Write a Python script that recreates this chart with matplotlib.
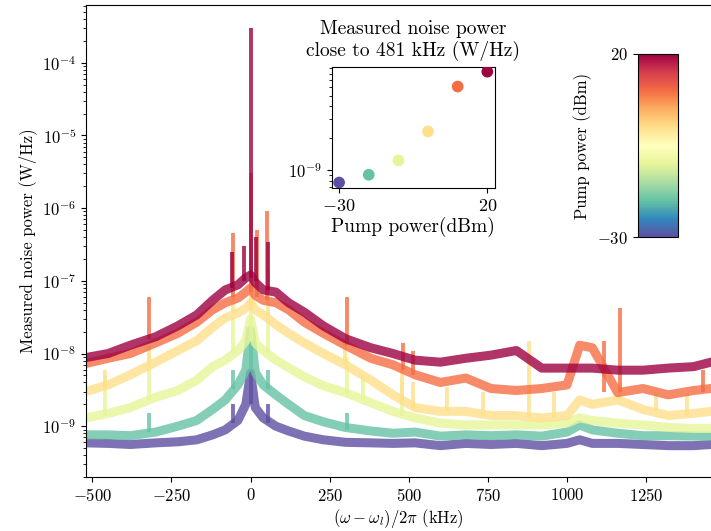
import matplotlib
matplotlib.use('Agg')
import matplotlib.pyplot as plt
from matplotlib import colors, colorbar

plt.rcParams['font.family'] = 'serif'
plt.rcParams['font.serif'] = ['cmr10']
plt.rcParams['mathtext.fontset'] = 'cm'
plt.rcParams['axes.formatter.use_mathtext'] = True
plt.rcParams['font.size'] = 12

# pump powers (dBm)
pump = [-30, -20, -10, 0, 10, 20]

# detuning grid (kHz) where the noise floor was read
freq = [-520, -450, -380, -300, -230, -170, -120, -80, -40, -15, 0, 15, 40, 80, 120,
        170, 230, 300, 380, 450, 520, 600, 680, 760, 840, 920, 1000, 1040, 1080,
        1160, 1240, 1320, 1400, 1455]

# noise power (W/Hz), one list per pump power
p_m30 = [5.9e-10, 5.8e-10, 5.6e-10, 5.9e-10, 6.1e-10, 6.5e-10, 7.6e-10, 8.9e-10, 1.2e-9,
         2.0e-9, 5.4e-9, 1.8e-9, 1.3e-9, 1.0e-9, 8.6e-10, 7.3e-10, 6.5e-10, 6.0e-10,
         5.9e-10, 5.8e-10, 5.9e-10, 5.4e-10, 5.8e-10, 5.6e-10, 5.8e-10, 5.4e-10, 5.8e-10,
         6.5e-10, 5.8e-10, 5.8e-10, 5.6e-10, 5.4e-10, 5.4e-10, 5.6e-10]
p_m20 = [7.6e-10, 7.6e-10, 7.4e-10, 8.3e-10, 1.0e-9, 1.2e-9, 1.7e-9, 2.3e-9, 3.7e-9,
         5.9e-9, 2.1e-8, 5.5e-9, 3.7e-9, 2.7e-9, 2.0e-9, 1.4e-9, 1.15e-9, 9.6e-10,
         8.6e-10, 8.0e-10, 8.3e-10, 7.3e-10, 7.6e-10, 7.4e-10, 7.6e-10, 7.3e-10, 8.3e-10,
         1.04e-9, 8.9e-10, 8.0e-10, 7.4e-10, 7.4e-10, 7.3e-10, 7.3e-10]
p_m10 = [1.3e-9, 1.5e-9, 1.8e-9, 2.5e-9, 3.1e-9, 4.3e-9, 6.6e-9, 8.1e-9, 1.1e-8,
         1.5e-8, 3.0e-8, 1.4e-8, 1.1e-8, 8.1e-9, 6.4e-9, 4.8e-9, 3.6e-9, 2.9e-9,
         2.1e-9, 1.6e-9, 1.3e-9, 1.1e-9, 1.04e-9, 1.04e-9, 1.04e-9, 1.04e-9, 1.1e-9,
         1.3e-9, 1.2e-9, 1.1e-9, 1.04e-9, 9.6e-10, 9.3e-10, 9.3e-10]
p_0 = [3.0e-9, 3.7e-9, 5.1e-9, 7.6e-9, 1.1e-8, 1.5e-8, 2.3e-8, 3.1e-8, 3.6e-8,
       4.2e-8, 5.0e-8, 4.0e-8, 3.4e-8, 2.5e-8, 1.9e-8, 1.4e-8, 1.0e-8, 7.0e-9,
       4.3e-9, 2.7e-9, 1.8e-9, 1.6e-9, 1.6e-9, 1.4e-9, 1.4e-9, 1.3e-9, 1.4e-9,
       2.3e-9, 2.0e-9, 2.3e-9, 1.7e-9, 1.4e-9, 1.5e-9, 1.6e-9]
p_10 = [7.3e-9, 8.6e-9, 1.0e-8, 1.4e-8, 1.9e-8, 2.7e-8, 4.0e-8, 5.0e-8, 5.8e-8,
        7.0e-8, 8.0e-8, 6.3e-8, 5.4e-8, 5.0e-8, 4.0e-8, 2.7e-8, 1.9e-8, 1.3e-8,
        8.6e-9, 7.0e-9, 5.1e-9, 4.0e-9, 4.6e-9, 3.3e-9, 3.1e-9, 3.3e-9, 3.7e-9,
        1.3e-8, 1.2e-8, 2.9e-9, 3.3e-9, 2.7e-9, 3.1e-9, 3.3e-9]
p_20 = [8.8e-9, 1.0e-8, 1.3e-8, 1.7e-8, 2.4e-8, 3.4e-8, 5.4e-8, 7.5e-8, 8.8e-8,
        1.1e-7, 1.2e-7, 9.5e-8, 7.5e-8, 7.0e-8, 5.0e-8, 3.7e-8, 2.4e-8, 1.6e-8,
        1.2e-8, 1.0e-8, 8.1e-9, 7.6e-9, 8.6e-9, 9.5e-9, 1.1e-8, 6.3e-9, 6.3e-9,
        6.3e-9, 6.3e-9, 5.9e-9, 5.9e-9, 6.3e-9, 6.6e-9, 7.6e-9]
spectra = [p_m30, p_m20, p_m10, p_0, p_10, p_20]

# narrow lines: (detuning kHz, floor, top) in W/Hz
lines_m30 = [(0, 2.0e-9, 5.6e-9), (-55, 1.1e-9, 2.0e-9), (55, 1.1e-9, 2.0e-9)]
lines_m20 = [(0, 5.9e-9, 2.3e-8), (-55, 3.3e-9, 6.0e-9), (55, 3.3e-9, 6.0e-9),
             (-320, 8.3e-10, 1.5e-9), (305, 9.0e-10, 1.5e-9)]
lines_m10 = [(0, 1.5e-8, 8.0e-8), (-55, 1.0e-8, 3.2e-8), (55, 1.0e-8, 3.7e-8),
             (-460, 1.4e-9, 5.0e-9), (-320, 2.3e-9, 1.0e-8), (305, 2.8e-9, 9.0e-9),
             (355, 2.3e-9, 5.0e-9), (480, 1.4e-9, 4.0e-9)]
lines_0 = [(0, 4.0e-8, 1.5e-7), (-55, 3.6e-8, 8.0e-8), (55, 3.4e-8, 1.5e-7),
           (-460, 3.5e-9, 6.0e-9), (-320, 7.0e-9, 1.3e-8), (300, 7.0e-9, 1.4e-8),
           (480, 2.2e-9, 6.0e-9), (514, 1.7e-9, 4.0e-9), (620, 1.6e-9, 3.5e-9),
           (735, 1.4e-9, 3.0e-9), (880, 1.3e-9, 1.5e-8), (960, 1.3e-9, 3.0e-9),
           (1167, 2.3e-9, 4.0e-9), (1280, 1.6e-9, 3.0e-9), (1380, 1.4e-9, 2.8e-9)]
lines_10 = [(0, 7.0e-8, 3.0e-6), (-55, 6.0e-8, 4.5e-7), (53, 5.5e-8, 9.0e-7),
            (20, 6.0e-8, 5.0e-7), (-320, 1.6e-8, 6.0e-8), (305, 1.3e-8, 6.0e-8),
            (481, 6.0e-9, 1.4e-8), (514, 5.0e-9, 1.1e-8), (1117, 3.0e-9, 1.5e-8),
            (1167, 3.0e-9, 4.2e-8), (1430, 3.0e-9, 6.0e-9)]
lines_20 = [(0, 1.1e-7, 3.0e-4), (-59, 8.0e-8, 2.5e-7), (55, 7.5e-8, 3.4e-7),
            (-20, 1.0e-7, 3.0e-7), (18, 1.0e-7, 4.0e-7)]
narrow = [lines_m30, lines_m20, lines_m10, lines_0, lines_10, lines_20]

# noise close to 481 kHz vs pump power (inset)
noise_481 = [7.7e-10, 9.1e-10, 1.24e-9, 2.31e-9, 6.07e-9, 8.36e-9]

cmap = plt.get_cmap('Spectral_r')
norm = colors.Normalize(vmin=-30, vmax=20)

fig = plt.figure(figsize=(7.11, 5.31), dpi=100)
ax = fig.add_axes([86 / 711, 1 - 477 / 531, 625 / 711, 472.3 / 531])

for pw, spec, nl in zip(pump, spectra, narrow):
    c = cmap(norm(pw))
    ax.plot(freq, spec, color=c, lw=6.5, alpha=0.8)
    ax.vlines([n[0] for n in nl], [n[1] for n in nl], [n[2] for n in nl],
              colors=[c], lw=2.8, alpha=0.8)

ax.set_yscale('log')
ax.set_xlim(-520, 1455)
ax.set_ylim(2.0e-10, 6.3e-4)
ax.set_xticks([-500, -250, 0, 250, 500, 750, 1000, 1250])
ax.set_xlabel(r'$(\omega-\omega_l)/2\pi$ (kHz)', labelpad=2)
ax.set_ylabel('Measured noise power (W/Hz)')
ax.spines['right'].set_visible(False)

# inset
axi = fig.add_axes([331.7 / 711, 1 - 188.3 / 531, 163.3 / 711, 121.6 / 531])
axi.scatter(pump, noise_481, c=[cmap(norm(p)) for p in pump], s=55, zorder=3)
axi.set_yscale('log')
axi.set_xlim(-32.5, 22.6)
axi.set_ylim(6.8e-10, 9.3e-9)
axi.set_xticks([-30, 20])
axi.tick_params(axis='x', labelsize=13)
axi.set_xlabel('Pump power(dBm)', fontsize=14, labelpad=2)
axi.set_title('Measured noise power\nclose to 481 kHz (W/Hz)', fontsize=14, pad=8)

# colorbar
cax = fig.add_axes([637.7 / 711, 1 - 237.3 / 531, 40.6 / 711, 183.3 / 531])
cb = colorbar.ColorbarBase(cax, cmap=cmap, norm=norm, orientation='vertical')
cb.set_ticks([-30, 20])
cax.yaxis.set_ticks_position('left')
cax.yaxis.set_label_position('left')
cb.set_label('Pump power (dBm)', labelpad=4)

fig.savefig('out.png', dpi=100)
